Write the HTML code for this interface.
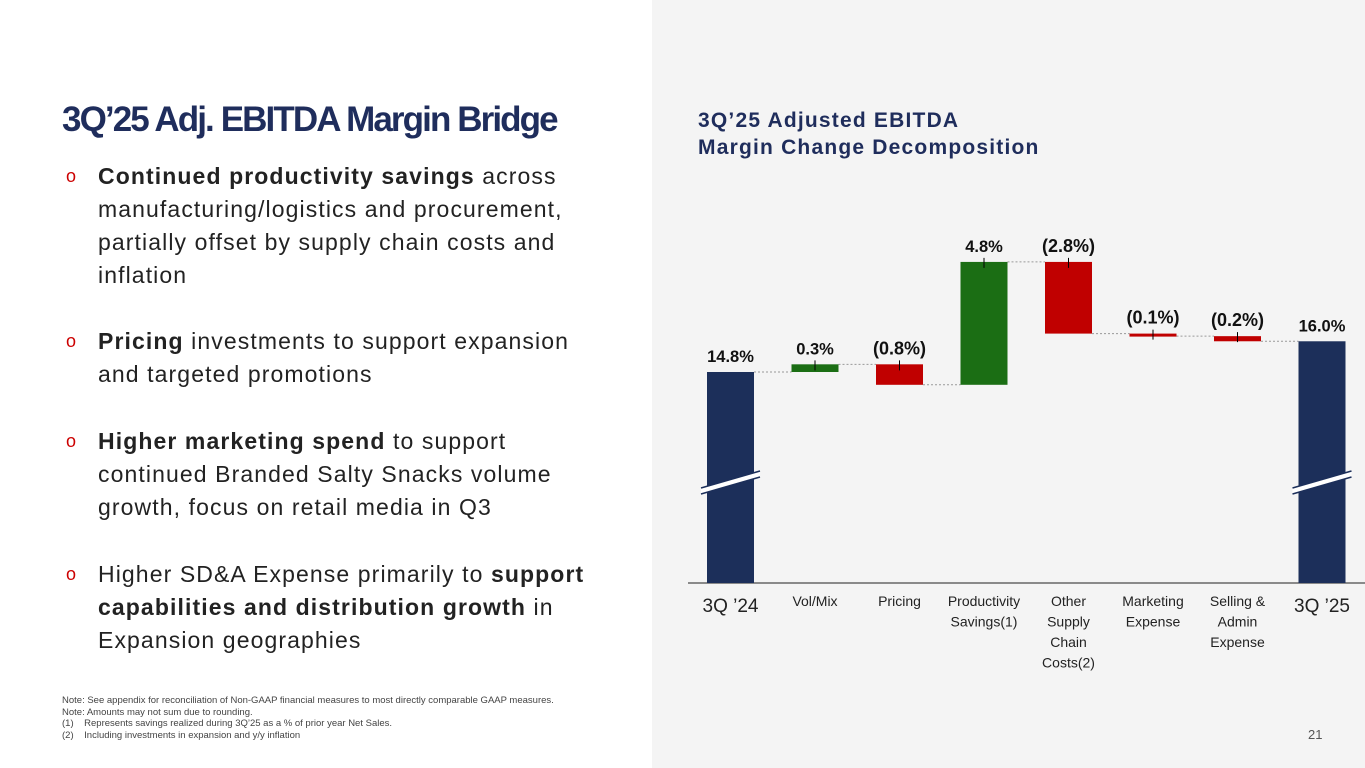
<!DOCTYPE html>
<html><head><meta charset="utf-8">
<style>
body{margin:0;width:1365px;height:768px;position:relative;overflow:hidden;background:#fff;font-family:"Liberation Sans",sans-serif;}
#right{position:absolute;left:652px;top:0;width:713px;height:768px;background:#f4f4f4;}
.title{position:absolute;left:62px;top:100px;font-size:35px;font-weight:bold;color:#1f2d5c;letter-spacing:-1.9px;}
.rt{position:absolute;left:698px;top:107px;font-size:21px;font-weight:bold;color:#1f2d5c;line-height:27px;letter-spacing:1.2px;}
.bul{position:absolute;left:66px;font-size:23px;line-height:33px;color:#222;white-space:nowrap;letter-spacing:1.1px;}
.bul .o{position:absolute;left:0;color:#c00;font-size:18px;letter-spacing:0;}
.bul .t{margin-left:32px;display:block;}
.note{position:absolute;left:62px;top:695px;font-size:9.5px;color:#444;line-height:11.5px;}
.pg{position:absolute;left:1308px;top:727px;font-size:13px;color:#555;}
</style></head><body>
<div id="right"></div>
<div class="title">3Q’25 Adj. EBITDA Margin Bridge</div>
<div class="rt">3Q’25 Adjusted EBITDA<br>Margin Change Decomposition</div>
<div class="bul" style="top:160px"><span class="o">o</span><span class="t"><b>Continued productivity savings</b> across<br>manufacturing/logistics and procurement,<br>partially offset by supply chain costs and<br>inflation</span></div>
<div class="bul" style="top:325px"><span class="o">o</span><span class="t"><b>Pricing</b> investments to support expansion<br>and targeted promotions</span></div>
<div class="bul" style="top:425px"><span class="o">o</span><span class="t"><b>Higher marketing spend</b> to support<br>continued Branded Salty Snacks volume<br>growth, focus on retail media in Q3</span></div>
<div class="bul" style="top:558px"><span class="o">o</span><span class="t">Higher SD&amp;A Expense primarily to <b>support</b><br><b>capabilities and distribution growth</b> in<br>Expansion geographies</span></div>
<div class="note">Note: See appendix for reconciliation of Non-GAAP financial measures to most directly comparable GAAP measures.<br>Note: Amounts may not sum due to rounding.<br>(1)&nbsp;&nbsp;&nbsp;&nbsp;Represents savings realized during 3Q’25 as a % of prior year Net Sales.<br>(2)&nbsp;&nbsp;&nbsp;&nbsp;Including investments in expansion and y/y inflation</div>
<div class="pg">21</div>
<svg id="chart" width="1365" height="768" style="position:absolute;left:0;top:0"></svg>
<script>
const categories=["3Q ’24","Vol/Mix","Pricing","Productivity|Savings(1)","Other|Supply|Chain|Costs(2)","Marketing|Expense","Selling &|Admin|Expense","3Q ’25"];
const values=[14.8,0.3,-0.8,4.8,-2.8,-0.1,-0.2,16.0];
const labels=["14.8%","0.3%","(0.8%)","4.8%","(2.8%)","(0.1%)","(0.2%)","16.0%"];
const types=["total","delta","delta","delta","delta","delta","delta","total"];
const NS="http://www.w3.org/2000/svg";
const svg=document.getElementById('chart');
const baseY=583, refV=14.8, refY=372, pxPer=25.6;
function y(v){return refY-(v-refV)*pxPer;}
function x(i){return 707+i*84.5;}
const bw=47;
function mk(tag,attrs){const e=document.createElementNS(NS,tag);for(const k in attrs)e.setAttribute(k,attrs[k]);svg.appendChild(e);return e;}
let ax=mk('line',{x1:688,x2:1365,y1:baseY,y2:baseY,stroke:'#666','stroke-width':1.5});


let run=0;
for(let i=0;i<values.length;i++){
  let y1,y2,col,topY;
  if(types[i]==="total"){run=values[i];y1=y(run);y2=baseY;col='#1c2f5a';topY=y1;}
  else{const s=run,e=run+values[i];run=e;y1=y(Math.max(s,e));y2=y(Math.min(s,e));col=values[i]>=0?'#1b6e14':'#c00000';topY=y1;}
  const r=mk('rect',{x:x(i),y:y1,width:bw,height:Math.max(3,y2-y1),fill:col});
  
  
  if(i<values.length-1){
    const cy=y(run);
    const c=mk('line',{x1:x(i)+bw,x2:x(i+1),y1:cy,y2:cy,stroke:'#999','stroke-width':1,'stroke-dasharray':'2,2'});
    
    
  }
  if(types[i]==="delta"){mk('line',{x1:x(i)+bw/2,x2:x(i)+bw/2,y1:topY-4,y2:topY+6,stroke:'#000','stroke-width':1});}
  const t=mk('text',{x:x(i)+bw/2,y:topY-10,'text-anchor':'middle','font-size':labels[i].startsWith('(')?18:16.5,'font-weight':'bold',fill:'#111'});
  t.textContent=labels[i];
  
  
  const lines=categories[i].split('|');
  const big=types[i]==="total";
  lines.forEach((ln,j)=>{
    const tt=mk('text',{x:x(i)+bw/2,y:big?612:606+j*20.5,'text-anchor':'middle','font-size':big?19:14,fill:'#222'});
    tt.textContent=ln;
    
    
  });
  if(big){
    mk('polygon',{points:`${x(i)-6},${488} ${x(i)+bw+6},${471} ${x(i)+bw+6},${477} ${x(i)-6},${494}`,fill:'#fff'});
    mk('line',{x1:x(i)-6,y1:488,x2:x(i)+bw+6,y2:471,stroke:'#1c2f5a','stroke-width':1.5});
    mk('line',{x1:x(i)-6,y1:494,x2:x(i)+bw+6,y2:477,stroke:'#1c2f5a','stroke-width':1.5});
  }
}
</script>
</body></html>
